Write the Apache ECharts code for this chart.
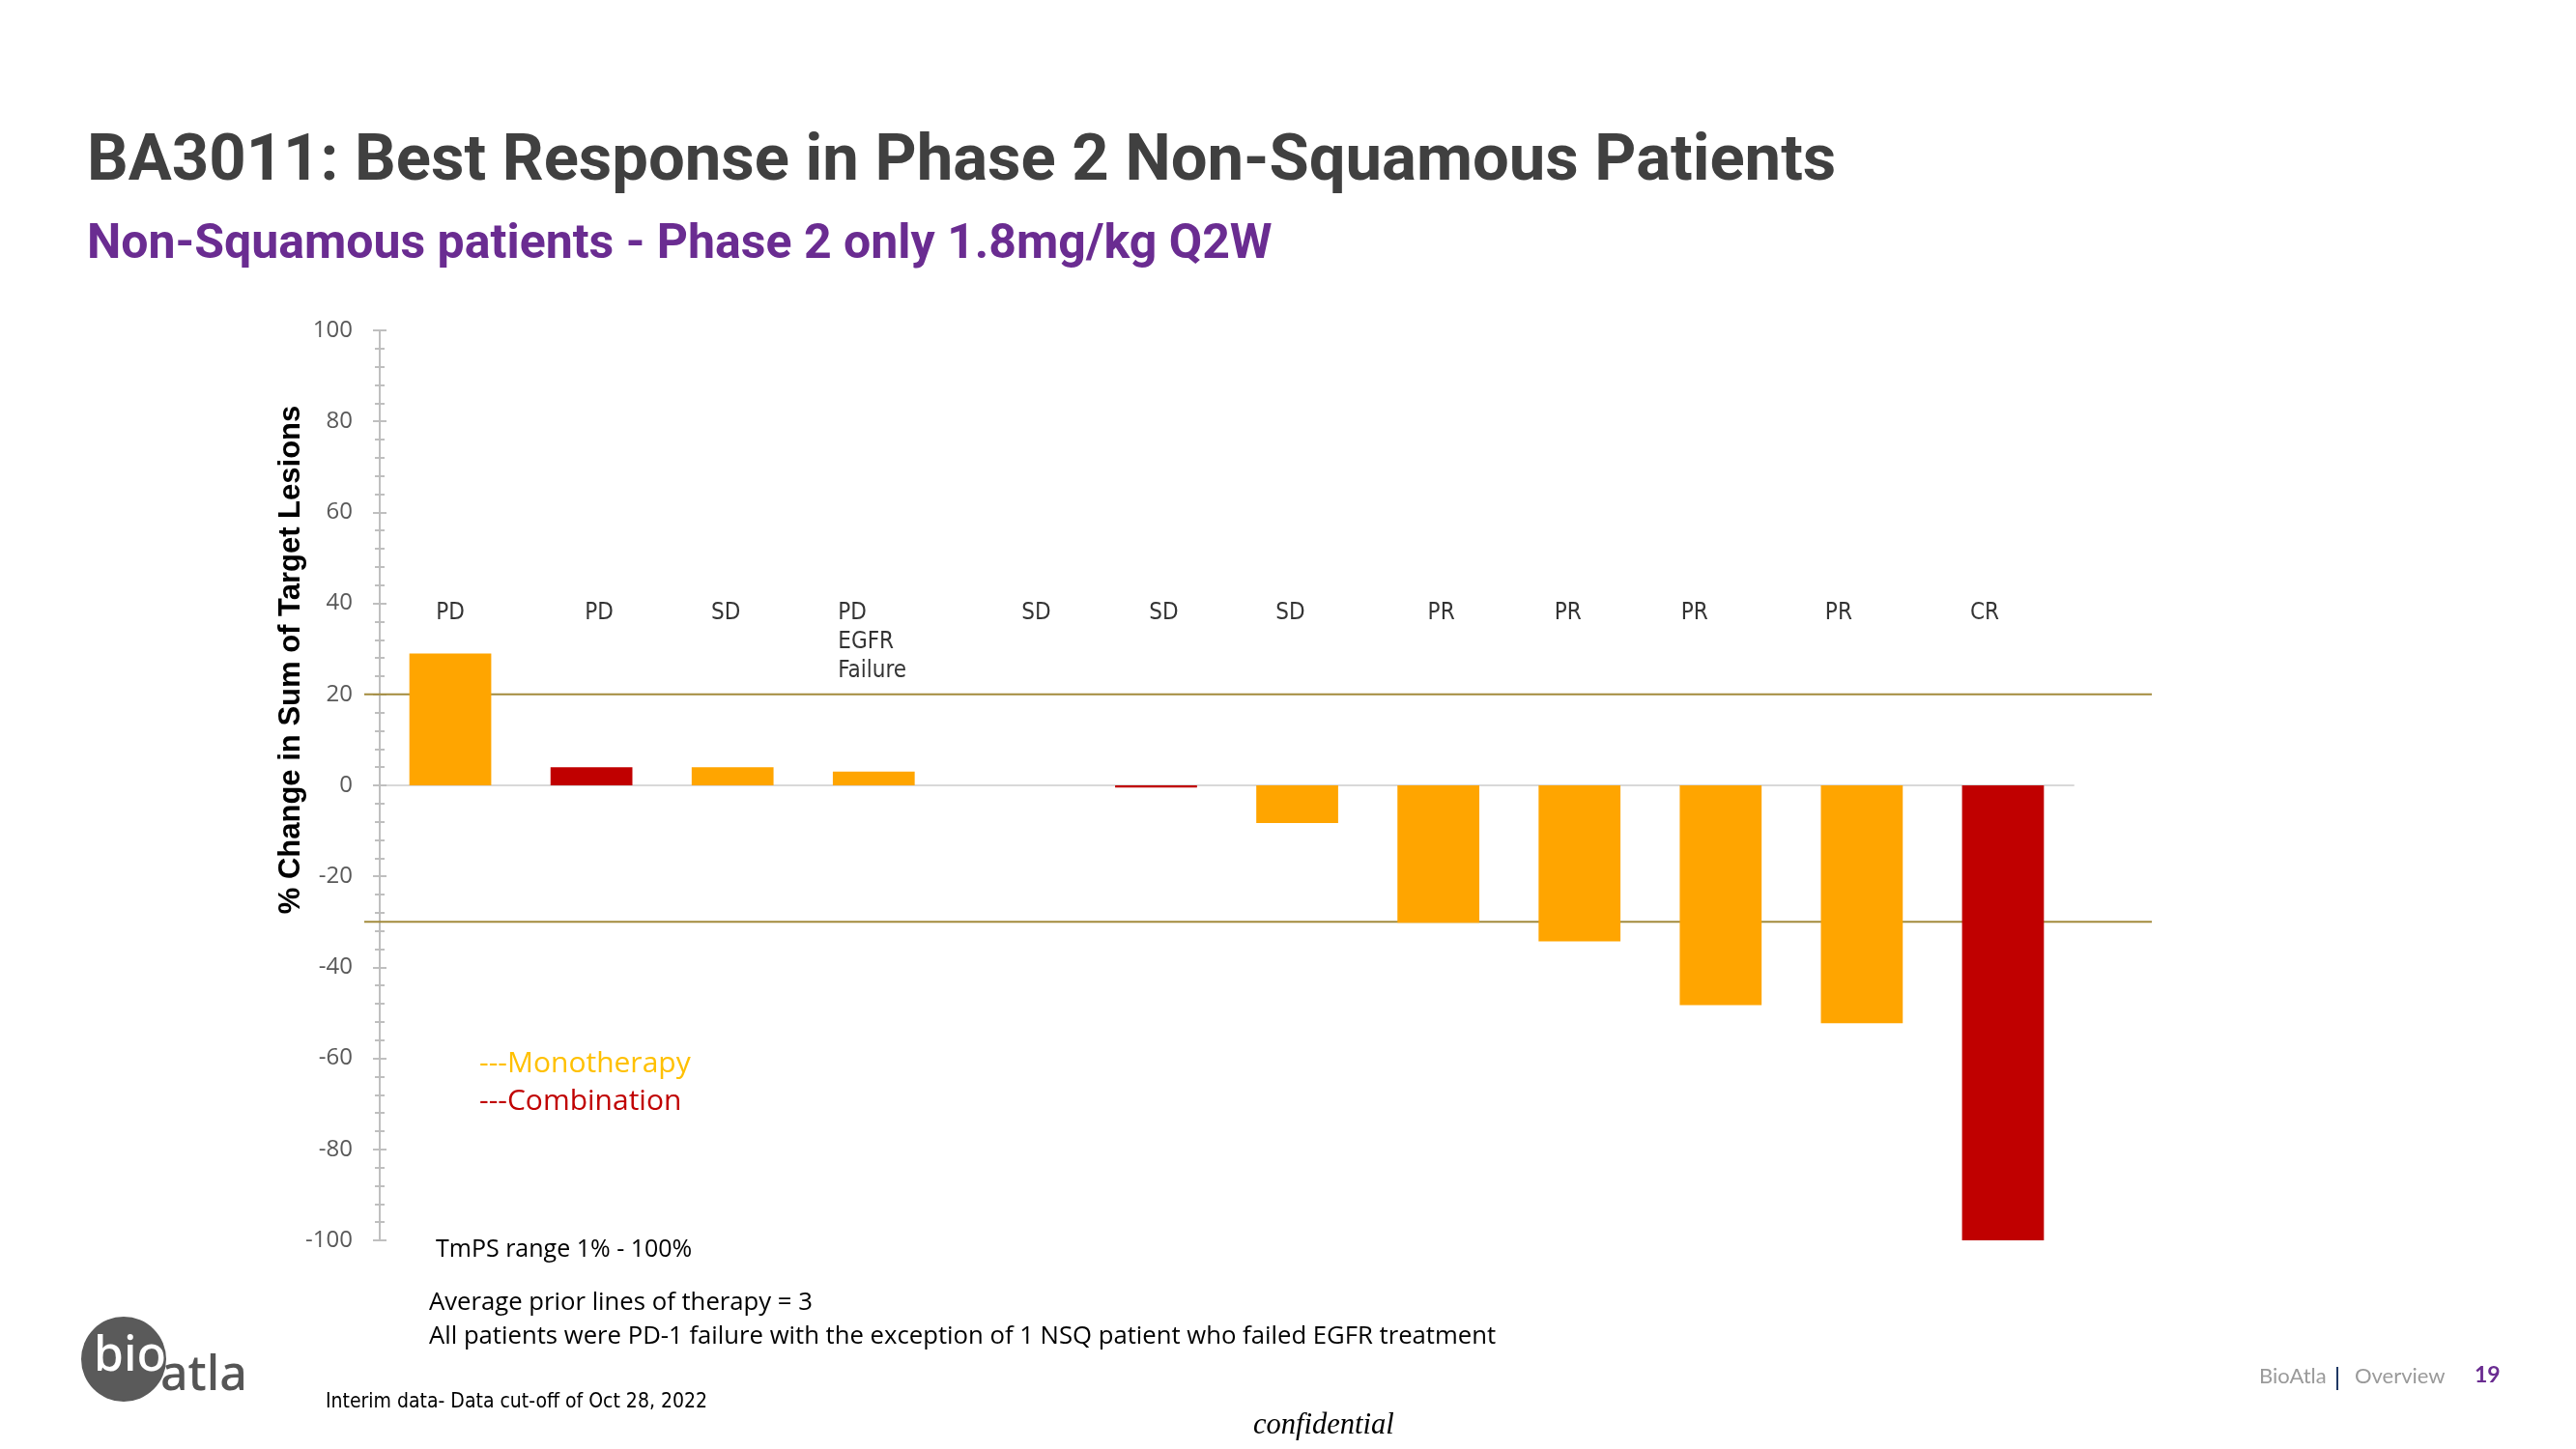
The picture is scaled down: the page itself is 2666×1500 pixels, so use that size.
<!DOCTYPE html>
<html>
<head>
<meta charset="utf-8">
<script src="https://cdn.jsdelivr.net/npm/echarts@6/dist/echarts.min.js"></script>
<style>
html,body{margin:0;padding:0;background:#fff;}
#chart{width:2666px;height:1500px;}
</style>
</head>
<body>
<div id="chart"></div>
<script>
// ---- Data ----
var patients = ['P1','P2','P3','P4','P5','P6','P7','P8','P9','P10','P11','P12'];
var changePct = [29, 4, 4, 3, 0, -0.5, -8.3, -30.2, -34.3, -48.3, -52.3, -100];
var therapy = ['Mono','Combo','Mono','Mono','Mono','Combo','Mono','Mono','Mono','Mono','Mono','Combo'];
var responses = ['PD','PD','SD','PD\nEGFR\nFailure','SD','SD','SD','PR','PR','PR','PR','CR'];
var yTicks = [-100, -80, -60, -40, -20, 0, 20, 40, 60, 80, 100];
var thresholds = [20, -30];

// ---- Layout / style (not data) ----
var labelDx = [0, 8, -7, 0, 22, 8, -7, 3, -12, -27, -24, -19];
var colorMap = {Mono: '#FFA500', Combo: '#C00000'};
var narrow = "'Liberation Sans Narrow','DejaVu Sans Condensed','Roboto Condensed',sans-serif";
var calibri = "'Open Sans','Noto Sans',sans-serif";

var chart = echarts.init(document.getElementById('chart'), null, {renderer: 'canvas'});

var gridTop = 342, gridBottom = 216;
var labelLevel = 37.9;

var barData = changePct.map(function (v, i) {
  return {value: v, itemStyle: {color: colorMap[therapy[i]]}};
});

var labelData = responses.map(function (r, i) {
  var item = {value: [patients[i], labelLevel], name: r, label: {offset: [labelDx[i], 0]}};
  if (r.indexOf('\n') >= 0) {
    item.label = {align: 'left', offset: [-37, 0], verticalAlign: 'top', padding: [-15, 0, 0, 0]};
  }
  return item;
});

var thresholdSeries = thresholds.map(function (t) {
  return {
    type: 'line', xAxisIndex: 1, yAxisIndex: 2,
    data: [[0, t], [1, t]], symbol: 'none', silent: true,
    lineStyle: {color: '#A38B3C', width: 2},
    z: 1
  };
});

var yMin = yTicks[0], yMax = yTicks[yTicks.length - 1];

var option = {
  animation: false,
  backgroundColor: '#ffffff',
  grid: [
    {left: 393, right: 520, top: gridTop, bottom: gridBottom},
    {left: 377, right: 439, top: gridTop, bottom: gridBottom}
  ],
  xAxis: [
    {
      type: 'category', gridIndex: 0, data: patients, boundaryGap: true,
      axisLine: {onZero: true, lineStyle: {color: '#D9D9D9', width: 2}},
      axisTick: {show: false}, axisLabel: {show: false}, splitLine: {show: false}
    },
    {type: 'value', gridIndex: 1, min: 0, max: 1, show: false}
  ],
  yAxis: [
    {
      type: 'value', gridIndex: 0, min: yMin, max: yMax, interval: 20,
      axisLine: {show: true, onZero: false, lineStyle: {color: '#BFBFBF', width: 2}},
      axisTick: {show: true, length: 7, lineStyle: {color: '#BFBFBF', width: 2}},
      minorTick: {show: true, splitNumber: 5, length: 5, lineStyle: {color: '#BFBFBF', width: 2}},
      axisLabel: {color: '#595959', fontSize: 24, margin: 28, fontFamily: calibri},
      splitLine: {show: false}
    },
    {
      type: 'value', gridIndex: 0, min: yMin, max: yMax, interval: 20, position: 'left',
      axisLine: {show: false},
      axisTick: {show: true, inside: true, length: 7, lineStyle: {color: '#BFBFBF', width: 2}},
      minorTick: {show: true, splitNumber: 5, length: 5, lineStyle: {color: '#BFBFBF', width: 2}},
      axisLabel: {show: false}, splitLine: {show: false}
    },
    {type: 'value', gridIndex: 1, min: yMin, max: yMax, show: false}
  ],
  series: [
    {
      type: 'bar', xAxisIndex: 0, yAxisIndex: 0, data: barData,
      barWidth: '58%', z: 3
    },
    {
      type: 'scatter', xAxisIndex: 0, yAxisIndex: 0, data: labelData,
      symbolSize: 0, silent: true, z: 4,
      label: {
        show: true, position: 'inside', color: '#000', fontSize: 24,
        lineHeight: 30, fontFamily: narrow,
        formatter: function (p) { return p.name; }
      }
    }
  ].concat(thresholdSeries),
  graphic: [
    {type: 'text', left: 90, top: 136, style: {text: 'BA3011: Best Response in Phase 2 Non-Squamous Patients', fill: '#404040', font: "bold 67px Roboto"}},
    {type: 'text', left: 90, top: 229, style: {text: 'Non-Squamous patients - Phase 2 only 1.8mg/kg Q2W', fill: '#6A2C91', font: "bold 50px Roboto"}},
    {type: 'text', x: 301, y: 683, rotation: Math.PI / 2, style: {text: '% Change in Sum of Target Lesions', fill: '#000', font: "bold 31px 'Liberation Sans'", align: 'center', verticalAlign: 'middle'}},
    {type: 'text', left: 496, top: 1086, style: {text: '---Monotherapy', fill: '#FFC000', font: "30px " + calibri}},
    {type: 'text', left: 496, top: 1125, style: {text: '---Combination', fill: '#C00000', font: "30px " + calibri}},
    {type: 'text', left: 451, top: 1281, style: {text: 'TmPS range 1% - 100%', fill: '#000', font: "25px " + calibri}},
    {type: 'text', left: 444, top: 1336, style: {text: 'Average prior lines of therapy = 3', fill: '#000', font: "25.7px " + calibri}},
    {type: 'text', left: 444, top: 1371, style: {text: 'All patients were PD-1 failure with the exception of 1 NSQ patient who failed EGFR treatment', fill: '#000', font: "25.7px " + calibri}},
    {type: 'text', left: 337, top: 1441, style: {text: 'Interim data- Data cut-off of Oct 28, 2022', fill: '#000', font: "21px " + narrow}},
    {type: 'text', left: 1297, top: 1461, style: {text: 'confidential', fill: '#000', font: "italic 30.5px 'Liberation Serif'"}},
    {type: 'text', left: 2338, top: 1414, style: {text: 'BioAtla', fill: '#9A9A9A', font: "22px Lato"}},
    {type: 'rect', shape: {x: 2418, y: 1415, width: 2, height: 24}, style: {fill: '#1F3864'}},
    {type: 'text', left: 2437, top: 1414, style: {text: 'Overview', fill: '#9A9A9A', font: "22px Lato"}},
    {type: 'text', left: 2561, top: 1412, style: {text: '19', fill: '#6A2C91', font: "bold 23px Lato"}},
    {type: 'circle', shape: {cx: 128, cy: 1407, r: 44}, style: {fill: '#5A5A5A'}},
    {type: 'text', x: 97, y: 1405, style: {text: 'bio', fill: '#ffffff', font: "500 50px 'Noto Sans'", verticalAlign: 'middle'}},
    {type: 'text', x: 166, y: 1425, style: {text: 'atla', fill: '#555555', font: "500 50px 'Noto Sans'", verticalAlign: 'middle'}}
  ]
};

chart.setOption(option);
</script>
</body>
</html>
